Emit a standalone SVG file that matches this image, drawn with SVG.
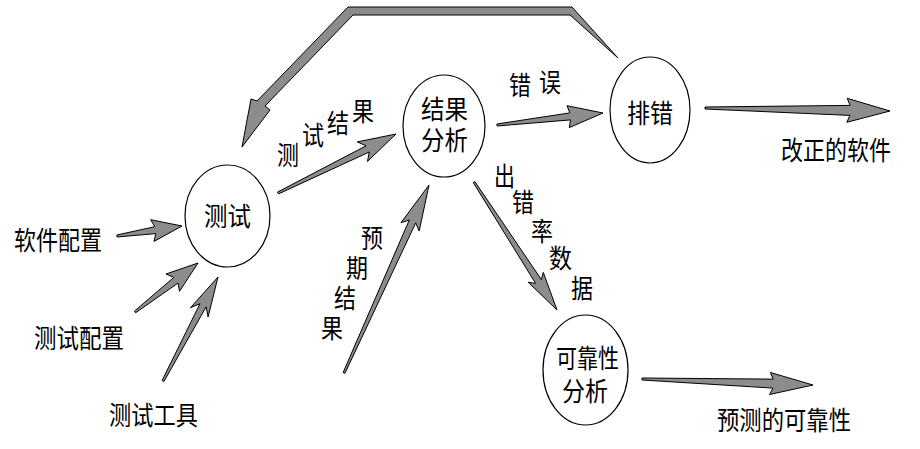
<svg xmlns="http://www.w3.org/2000/svg" width="920" height="449" viewBox="0 0 920 449">
<style>
.node ellipse{fill:#fff;stroke:#000;stroke-width:1.2}
.t{font-family:"Noto Sans CJK SC","Noto Sans CJK JP",sans-serif;font-size:26px;fill:#000}
.arr polygon{fill:#8c8c8c;stroke:#000;stroke-width:1;stroke-linejoin:miter}
</style>
<rect width="920" height="449" fill="#fff"/>
<g id="connectors" class="arr">
<polygon id="fb" points="618,58 572,7 348,7 257,101 251,99 242,147 270,110 265,106 353,15 570,15"/>
<polygon id="a1" points="117.2,237.0 155.8,233.6 154.0,241.4 182,226 150.7,219.7 154.8,226.7 116.8,235.0"/>
<polygon id="a2" points="135.6,312.8 178.1,283.0 179.5,291.3 198,263 166.0,274.0 173.8,277.4 134.4,311.2"/>
<polygon id="a3" points="163.9,381.5 206.1,306.9 208.1,317.0 218,277 190.5,307.7 200.0,303.7 162.1,380.5"/>
<polygon id="a4" points="278.5,193.9 369.3,152.0 367.5,161.4 396,134 357.3,141.9 366.1,145.8 277.5,192.1"/>
<polygon id="a5" points="497.1,126.0 570.5,119.9 569.3,127.6 603,113 567.0,105.7 569.8,112.9 496.9,124.0"/>
<polygon id="a6" points="344.9,373.4 415.7,222.9 419.2,231.0 429,185 400.9,222.8 409.3,220.0 343.1,372.6"/>
<polygon id="a7" points="473.2,182.5 535.6,283.4 528.2,282.2 557,310 543.3,272.4 541.4,279.6 474.8,181.5"/>
<polygon id="a8" points="705.0,109.0 849.9,115.4 846.8,122.3 890,111 847.2,98.3 850.1,105.4 705.0,107.0"/>
<polygon id="a9" points="642.0,380.0 772.9,388.1 769.6,394.5 813,385 770.4,372.5 773.2,379.1 642.0,378.0"/>
</g>
<g id="n-test" class="node"><ellipse cx="227.5" cy="216" rx="42.5" ry="51"/><text class="t" x="204" y="226" textLength="47" lengthAdjust="spacingAndGlyphs">测试</text></g>
<g id="n-analysis" class="node"><ellipse cx="444" cy="126" rx="41" ry="51"/><text class="t" x="421" y="119" textLength="47" lengthAdjust="spacingAndGlyphs">结果</text><text class="t" x="421" y="150" textLength="47" lengthAdjust="spacingAndGlyphs">分析</text></g>
<g id="n-debug" class="node"><ellipse cx="650" cy="110" rx="40" ry="53"/><text class="t" x="627" y="123" textLength="46" lengthAdjust="spacingAndGlyphs">排错</text></g>
<g id="n-rel" class="node"><ellipse cx="585.5" cy="370" rx="42.5" ry="55"/><text class="t" x="556" y="368" textLength="63" lengthAdjust="spacingAndGlyphs">可靠性</text><text class="t" x="562" y="401" textLength="46" lengthAdjust="spacingAndGlyphs">分析</text></g>
<g id="in-sw"><text class="t" x="14" y="250" textLength="88" lengthAdjust="spacingAndGlyphs">软件配置</text></g>
<g id="in-tc"><text class="t" x="34" y="348" textLength="90" lengthAdjust="spacingAndGlyphs">测试配置</text></g>
<g id="in-tt"><text class="t" x="109" y="425" textLength="89" lengthAdjust="spacingAndGlyphs">测试工具</text></g>
<g id="out-fixed"><text class="t" x="781" y="160" textLength="110" lengthAdjust="spacingAndGlyphs">改正的软件</text></g>
<g id="out-rel"><text class="t" x="717" y="430" textLength="134" lengthAdjust="spacingAndGlyphs">预测的可靠性</text></g>
<g id="labels" class="t">
<text class="t" x="277" y="165" textLength="22" lengthAdjust="spacingAndGlyphs">测</text>
<text class="t" x="302" y="145" textLength="22" lengthAdjust="spacingAndGlyphs">试</text>
<text class="t" x="327" y="133" textLength="22" lengthAdjust="spacingAndGlyphs">结</text>
<text class="t" x="352" y="121" textLength="22" lengthAdjust="spacingAndGlyphs">果</text>
<text class="t" x="509" y="95" textLength="22" lengthAdjust="spacingAndGlyphs">错</text>
<text class="t" x="539" y="92" textLength="22" lengthAdjust="spacingAndGlyphs">误</text>
<text class="t" x="361" y="248" textLength="22" lengthAdjust="spacingAndGlyphs">预</text>
<text class="t" x="346" y="278" textLength="22" lengthAdjust="spacingAndGlyphs">期</text>
<text class="t" x="334" y="308" textLength="22" lengthAdjust="spacingAndGlyphs">结</text>
<text class="t" x="321" y="338" textLength="22" lengthAdjust="spacingAndGlyphs">果</text>
<text class="t" x="494" y="186" textLength="21" lengthAdjust="spacingAndGlyphs">出</text>
<text class="t" x="512" y="212" textLength="22" lengthAdjust="spacingAndGlyphs">错</text>
<text class="t" x="531" y="241" textLength="22" lengthAdjust="spacingAndGlyphs">率</text>
<text class="t" x="549" y="268" textLength="23" lengthAdjust="spacingAndGlyphs">数</text>
<text class="t" x="571" y="298" textLength="22" lengthAdjust="spacingAndGlyphs">据</text>
</g>
</svg>
